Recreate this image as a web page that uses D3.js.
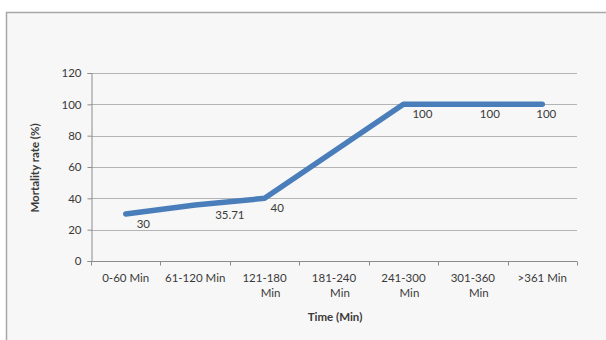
<!DOCTYPE html>
<html>
<head>
<meta charset="utf-8">
<script src="https://cdn.jsdelivr.net/npm/d3@7"></script>
<style>
  html, body { margin: 0; padding: 0; background: #ffffff; }
  svg { display: block; }
  text { font-family: Lato, "Open Sans", sans-serif; fill: #3a3a3a; }
</style>
</head>
<body>
<svg id="chart" width="606" height="340"></svg>
<script>
// Mortality rate by time interval
const categories = ["0-60 Min", "61-120 Min", "121-180 Min", "181-240 Min", "241-300 Min", "301-360 Min", ">361 Min"];
const tickLines = [["0-60 Min"], ["61-120 Min"], ["121-180", "Min"], ["181-240", "Min"], ["241-300", "Min"], ["301-360", "Min"], [">361 Min"]];
const mortality = [30, 35.71, 40, null, 100, 100, 100];
const mortalityLabels = ["30", "35.71", "40", null, "100", "100", "100"];
const yTicks = [0, 20, 40, 60, 80, 100, 120];
// horizontal nudge of each value label from its point
const labelDx = [11, 20, 6, 0, 9, 7, -6];

const svg = d3.select("#chart");

// chart frame
svg.append("rect")
  .attr("x", 6.5).attr("y", 12.5)
  .attr("width", 620).attr("height", 340)
  .attr("fill", "#f7f7f7")
  .attr("stroke", "#a8a8a8")
  .attr("stroke-width", 1.5);

const plotLeft = 91, plotRight = 577, plotTop = 73, plotBottom = 261;

const x = d3.scaleBand().domain(categories).range([plotLeft, plotRight]).padding(0);
const y = d3.scaleLinear().domain([0, 120]).range([plotBottom, plotTop]);

// gridlines
svg.append("g")
  .selectAll("line")
  .data(yTicks.filter(d => d > 0))
  .join("line")
  .attr("x1", plotLeft).attr("x2", plotRight)
  .attr("y1", d => Math.round(y(d)) + 0.5)
  .attr("y2", d => Math.round(y(d)) + 0.5)
  .attr("stroke", "#b4b4b4")
  .attr("stroke-width", 1);

// y axis
const yAxis = svg.append("g")
  .attr("transform", `translate(${plotLeft + 0.5},0)`)
  .call(d3.axisLeft(y).tickValues(yTicks).tickSize(4).tickPadding(6));
yAxis.select(".domain").attr("stroke", "#8c8c8c");
yAxis.selectAll(".tick line").attr("stroke", "#8c8c8c");
yAxis.selectAll(".tick text")
  .style("font-family", "Lato, sans-serif")
  .style("font-size", "11.5px")
  .attr("fill", "#3a3a3a");

// x axis with boundary ticks
const xAxisG = svg.append("g").attr("transform", `translate(0,${plotBottom + 0.5})`);
xAxisG.append("line")
  .attr("x1", plotLeft).attr("x2", plotRight)
  .attr("stroke", "#8c8c8c");
const bounds = categories.map(c => x(c)).concat([x(categories[categories.length - 1]) + x.bandwidth()]);
xAxisG.selectAll("line.tk")
  .data(bounds)
  .join("line")
  .attr("class", "tk")
  .attr("x1", d => Math.round(d) + 0.5).attr("x2", d => Math.round(d) + 0.5)
  .attr("y1", 0).attr("y2", 4)
  .attr("stroke", "#8c8c8c");

const xLabels = svg.append("g");
categories.forEach((c, i) => {
  const t = xLabels.append("text")
    .attr("x", x(c) + x.bandwidth() / 2)
    .attr("y", 282)
    .attr("text-anchor", "middle")
    .style("font-size", "11.5px");
  tickLines[i].forEach((ln, j) => {
    t.append("tspan")
      .attr("x", x(c) + x.bandwidth() / 2 + (j > 0 ? 6 : 0))
      .attr("dy", j === 0 ? 0 : 15)
      .text(ln);
  });
});

// line series (the 181-240 interval has no value; the line bridges it)
const pts = categories.map((c, i) => ({ c, v: mortality[i], lab: mortalityLabels[i], dx: labelDx[i] }))
  .filter(d => d.v !== null);

const line = d3.line()
  .x(d => x(d.c) + x.bandwidth() / 2)
  .y(d => y(d.v));

svg.append("path")
  .datum(pts)
  .attr("d", line)
  .attr("fill", "none")
  .attr("stroke", "#4a7ebb")
  .attr("stroke-width", 5.5)
  .attr("stroke-linejoin", "round")
  .attr("stroke-linecap", "round");

// value labels
svg.append("g")
  .selectAll("text")
  .data(pts)
  .join("text")
  .attr("x", d => x(d.c) + x.bandwidth() / 2 + d.dx)
  .attr("y", d => y(d.v) + 14)
  .style("font-size", "11.5px")
  .text(d => d.lab);

// axis titles
svg.append("text")
  .attr("transform", "translate(39,168) rotate(-90)")
  .attr("text-anchor", "middle")
  .style("font-size", "11.5px")
  .style("font-weight", "bold")
  .text("Mortality rate (%)");

svg.append("text")
  .attr("x", 335).attr("y", 321)
  .attr("text-anchor", "middle")
  .style("font-size", "11.5px")
  .style("font-weight", "bold")
  .text("Time (Min)");
</script>
</body>
</html>
